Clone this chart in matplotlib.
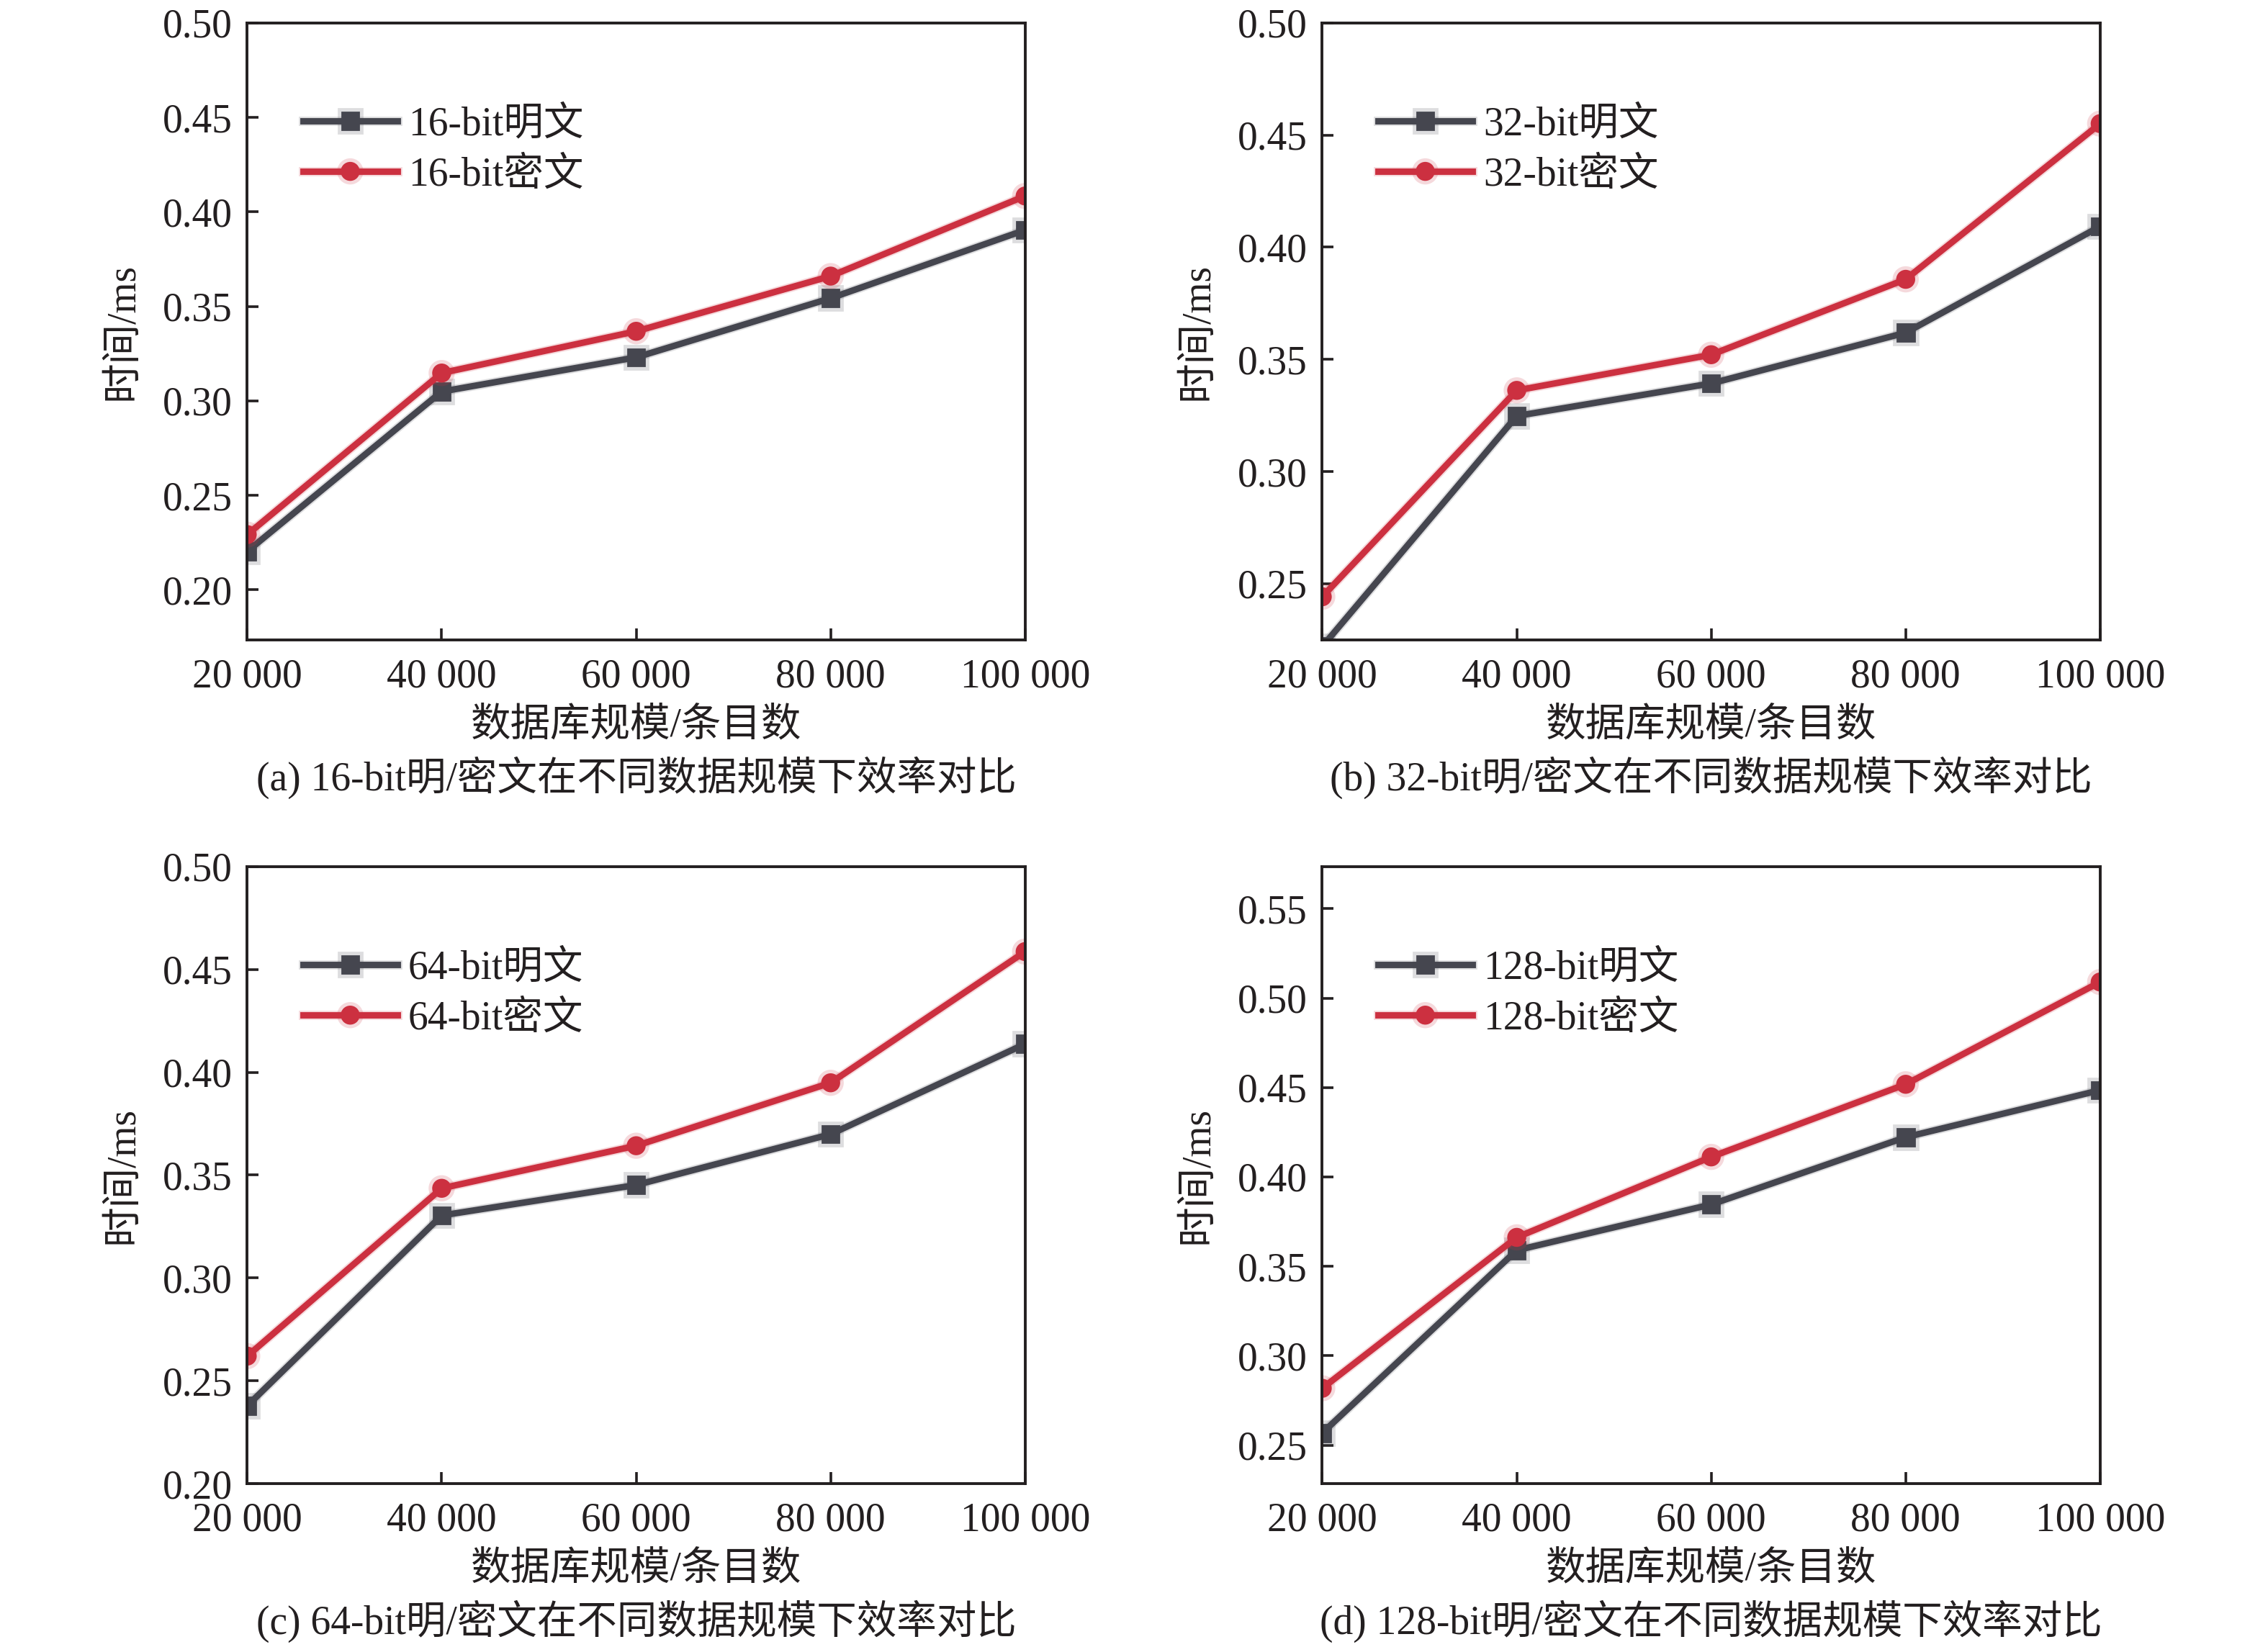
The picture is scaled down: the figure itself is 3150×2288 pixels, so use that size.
import matplotlib
matplotlib.use("Agg")
import matplotlib.pyplot as plt
import matplotlib.patheffects as pe
from matplotlib.ticker import FormatStrFormatter, MultipleLocator

plt.rcParams['font.family'] = ['Liberation Serif', 'Noto Sans CJK SC']
plt.rcParams['font.size'] = 20

# database sizes (entries)
sizes = [20000, 40000, 60000, 80000, 100000]

# time in ms
plain_16 = [0.2203, 0.3049, 0.3230, 0.3543, 0.3904]
cipher_16 = [0.2292, 0.3147, 0.3368, 0.3660, 0.4084]
plain_32 = [0.2220, 0.3248, 0.3393, 0.3619, 0.4093]
cipher_32 = [0.2442, 0.3362, 0.3521, 0.3857, 0.4551]
plain_64 = [0.2378, 0.3304, 0.3452, 0.3699, 0.4138]
cipher_64 = [0.2620, 0.3436, 0.3643, 0.3949, 0.4587]
plain_128 = [0.2568, 0.3590, 0.3846, 0.4222, 0.4485]
cipher_128 = [0.2818, 0.3662, 0.4112, 0.4518, 0.5090]

bits = ["16", "32", "64", "128"]
letters = ["a", "b", "c", "d"]
plains = [plain_16, plain_32, plain_64, plain_128]
ciphers = [cipher_16, cipher_32, cipher_64, cipher_128]
ylims = [(0.1735, 0.50), (0.225, 0.50), (0.20, 0.50), (0.2285, 0.5735)]

GRAY = '#45464f'
RED = '#cc3040'
INK = '#231f20'

fig = plt.figure(figsize=(15.75, 11.44), dpi=200)
lefts = [0.109, 0.583, 0.109, 0.583]
bottoms = [0.6115, 0.6115, 0.0992, 0.0992]
w, h = 0.343, 0.3746


def soft(color):
    return [pe.Stroke(linewidth=4.6, foreground=color, alpha=0.18), pe.Normal()]


for i in range(4):
    ax = fig.add_axes([lefts[i], bottoms[i], w, h])
    ax.plot(sizes, plains[i], color=GRAY, lw=3.2, marker='s', ms=8.5,
            label=bits[i] + "-bit明文", path_effects=soft(GRAY))
    ax.plot(sizes, ciphers[i], color=RED, lw=3.2, marker='o', ms=8.5,
            label=bits[i] + "-bit密文", path_effects=soft(RED))
    ax.set_xlim(sizes[0], sizes[-1])
    ax.set_ylim(*ylims[i])
    ax.yaxis.set_major_locator(MultipleLocator(0.05))
    ax.yaxis.set_major_formatter(FormatStrFormatter('%.2f'))
    ax.set_xticks(sizes)
    ax.set_xticklabels([f"{v:,}".replace(",", " ") for v in sizes])
    for s in ax.spines.values():
        s.set_linewidth(1.4)
        s.set_color(INK)
    ax.tick_params(axis='both', direction='in', length=5.8, width=1.3,
                   colors=INK, labelsize=20, top=False, right=False)
    ax.tick_params(axis='x', pad=9.3)
    ax.tick_params(axis='y', pad=7.5)

    ax.set_ylabel("时间/ms", fontsize=20, color=INK)
    ax.yaxis.set_label_coords(-0.136, 0.5)
    ax.text(0.5, -0.139, "数据库规模/条目数", transform=ax.transAxes,
            ha='center', va='center', fontsize=20, color=INK)
    ax.text(0.5, -0.223, f"({letters[i]}) {bits[i]}-bit明/密文在不同数据规模下效率对比",
            transform=ax.transAxes, ha='center', va='center', fontsize=20, color=INK)

    leg = ax.legend(loc='center left', bbox_to_anchor=(0.072, 0.794), frameon=False,
                    borderpad=0, borderaxespad=0, handlelength=2.35,
                    handletextpad=0.27, labelspacing=0.33, fontsize=20)
    for t in leg.get_texts():
        t.set_color(INK)

fig.savefig("out.png", dpi=200)
